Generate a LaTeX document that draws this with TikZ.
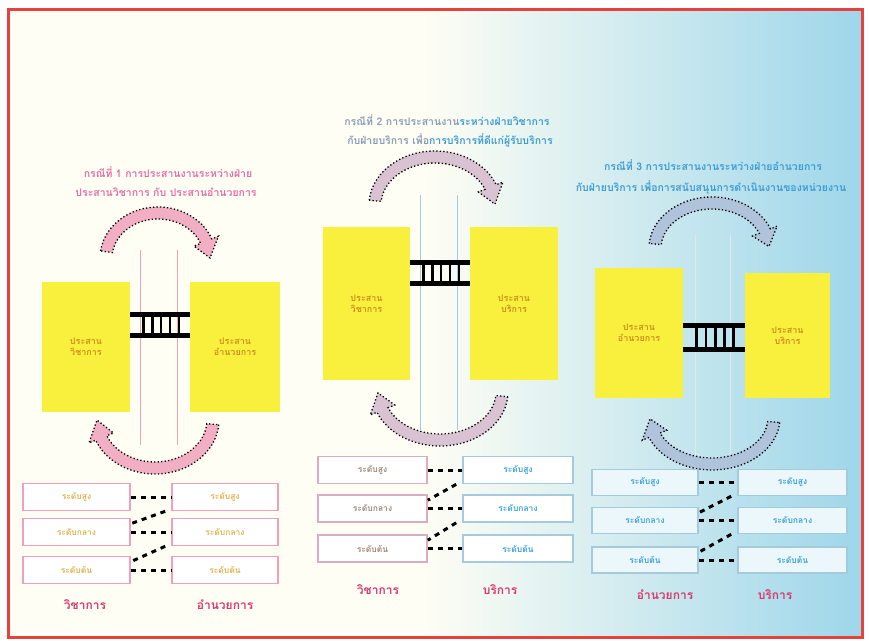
\documentclass[tikz,border=0pt]{standalone}
\usepackage{fontspec}
\setmainfont{Loma}[Script=Thai]
\usetikzlibrary{calc}

\definecolor{frame}{HTML}{E8403A}
\definecolor{skyb}{HTML}{9ED6EA}
\definecolor{cream}{HTML}{FFFEF4}
\definecolor{boxyellow}{HTML}{F8F03C}
\definecolor{boxtext}{HTML}{CF9020}
\definecolor{pinktitle}{HTML}{E46FA6}
\definecolor{bluetitle}{HTML}{3E9CD2}
\definecolor{greyblue}{HTML}{8A9CB4}
\definecolor{pinkline}{HTML}{F2A0B8}
\definecolor{blueline}{HTML}{A4CADC}
\definecolor{labelred}{HTML}{D8386E}
\definecolor{arrowpink}{HTML}{F2AFC4}
\definecolor{arrowmauve}{HTML}{D9C3D3}
\definecolor{arrowblue}{HTML}{AFC3DB}
\definecolor{faintyellow}{HTML}{E0B452}
\definecolor{levelblue}{HTML}{3CA2DA}
\definecolor{levelgrey}{HTML}{A08A78}

\tikzset{
  panelbox/.style={fill=boxyellow, draw=none, inner sep=0pt, align=center,
    font=\bfseries\fontsize{9}{11}\selectfont, text=boxtext},
  levelbox/.style={draw=#1, line width=1.6pt, fill=white, minimum height=27pt,
    inner sep=0pt, font=\bfseries\fontsize{8.5}{9}\selectfont},
  link/.style={draw=black, line width=3pt, dash pattern=on 5pt off 5pt},
  rail/.style={line width=5pt, black},
  rung/.style={line width=2.6pt, black},
  divider/.style={line width=0.8pt},
  titletext/.style={font=\bfseries\fontsize{10.5}{12}\selectfont},
  sidelabel/.style={font=\bfseries\fontsize{12}{13}\selectfont, text=labelred},
  band/.style={fill=#1, draw=black, line width=1.3pt, dash pattern=on 1.3pt off 2.2pt},
}

% curved broad arrow: centre, x radius, y radius, half width, start, end, tip angle, style
\newcommand\bandarrow[8]{%
  \pgfmathsetmacro\rxo{#2+#4}\pgfmathsetmacro\ryo{#3+#4}%
  \pgfmathsetmacro\rxi{#2-#4}\pgfmathsetmacro\ryi{#3-#4}%
  \pgfmathsetmacro\rxh{#2+2.2*#4}\pgfmathsetmacro\ryh{#3+2.2*#4}%
  \pgfmathsetmacro\rxl{#2-2.2*#4}\pgfmathsetmacro\ryl{#3-2.2*#4}%
  \filldraw[#8] ($(#1)+(#5:\rxo\space and \ryo)$)
    arc[start angle=#5, end angle=#6, x radius=\rxo, y radius=\ryo]
    -- ($(#1)+(#6:\rxh\space and \ryh)$)
    -- ($(#1)+(#7:#2 and #3)$)
    -- ($(#1)+(#6:\rxl\space and \ryl)$)
    -- ($(#1)+(#6:\rxi\space and \ryi)$)
    arc[start angle=#6, end angle=#5, x radius=\rxi, y radius=\ryi]
    -- cycle;}

% ladder of rails and rungs joining two boxes: left box, right box, upper y, lower y
\newcommand\ladder[4]{%
  \coordinate (lt) at (0,#3); \coordinate (lb) at (0,#4);
  \coordinate (p1) at (#1.east |- lt); \coordinate (p2) at (#2.west |- lt);
  \coordinate (p3) at (#1.east |- lb); \coordinate (p4) at (#2.west |- lb);
  \foreach \t in {0.22,0.37,0.52,0.67,0.82}
    \draw[rung] ($(p1)!\t!(p2)$) -- ($(p3)!\t!(p4)$);
  \draw[rail] (p1) -- (p2);
  \draw[rail] (p3) -- (p4);}

\begin{document}
\begin{tikzpicture}[x=1pt, y=1pt]
\useasboundingbox (0,0) rectangle (869,643);

% background and frame
\fill[white] (0,0) rectangle (869,643);
\fill[cream] (8,6) rectangle (862,633);
\shade[left color=cream, right color=skyb] (420,6) rectangle (862,633);
\draw[frame, line width=3pt] (8,6) rectangle (862,633);

% thin vertical guide lines
\draw[divider, pinkline] (140,393) -- (140,198);
\draw[divider, pinkline] (177,393) -- (177,198);
\draw[divider, blueline] (420,448) -- (420,213);
\draw[divider, blueline] (457,448) -- (457,213);
\draw[divider, white!60!blueline] (695,408) -- (695,183);
\draw[divider, white!60!blueline] (730,408) -- (730,183);

% ---------- left panel ----------
\node[titletext, text=pinktitle] (Lt1) at (168,471) {กรณีที่ 1 การประสานงานระหว่างฝ่าย};
\node[titletext, text=pinktitle] (Lt2) at (166,451) {ประสานวิชาการ กับ ประสานอำนวยการ};

\node[panelbox, minimum width=88pt, minimum height=130pt] (LA) at (86,296) {ประสาน\\วิชาการ};
\node[panelbox, minimum width=90pt, minimum height=130pt] (LB) at (235,296) {ประสาน\\อำนวยการ};
\ladder{LA}{LB}{328}{307}

\coordinate (Lup) at (158,385);
\bandarrow{Lup}{52}{45}{6}{172}{22}{0}{band=arrowpink}
\coordinate (Ldown) at (155,223);
\bandarrow{Ldown}{58}{48}{6}{-5}{-158}{-180}{band=arrowpink}

\node[levelbox=pinkline, minimum width=107pt, text=faintyellow] (LA1) at (76.5,146) {ระดับสูง};
\node[levelbox=pinkline, minimum width=107pt, text=faintyellow] (LA2) at (76.5,111) {ระดับกลาง};
\node[levelbox=pinkline, minimum width=107pt, text=faintyellow] (LA3) at (76.5,73) {ระดับต้น};
\node[levelbox=pinkline, minimum width=106pt, text=faintyellow] (LB1) at (225,146) {ระดับสูง};
\node[levelbox=pinkline, minimum width=106pt, text=faintyellow] (LB2) at (225,111) {ระดับกลาง};
\node[levelbox=pinkline, minimum width=106pt, text=faintyellow] (LB3) at (225,73) {ระดับต้น};
\draw[link] (LA1) -- (LB1);
\draw[link] ([xshift=-6pt]LB1.south west) -- ([yshift=-6pt]LA2.north east);
\draw[link] (LA2) -- (LB2);
\draw[link] ([xshift=-6pt]LB2.south west) -- ([yshift=-6pt]LA3.north east);
\draw[link] (LA3) -- (LB3);

\node[sidelabel] (LlabA) at (85,38) {วิชาการ};
\node[sidelabel] (LlabB) at (225,38) {อำนวยการ};

% ---------- middle panel ----------
\node[titletext] (Mt1) at (447,523) {\color{greyblue}กรณีที่ 2 การประสานงาน\color{bluetitle}ระหว่างฝ่ายวิชาการ};
\node[titletext] (Mt2) at (450,503) {\color{greyblue}กับฝ่ายบริการ เพื่อ\color{bluetitle}การบริการที่ดีแก่ผู้รับบริการ};

\node[panelbox, minimum width=87pt, minimum height=153pt] (MA) at (366.5,339.5) {ประสาน\\วิชาการ};
\node[panelbox, minimum width=88pt, minimum height=153pt] (MB) at (514,339.5) {ประสาน\\บริการ};
\ladder{MA}{MB}{380}{359}

\coordinate (Mup) at (435,438);
\bandarrow{Mup}{60}{48}{6}{175}{22}{1}{band=arrowmauve}
\coordinate (Mdown) at (440,251);
\bandarrow{Mdown}{62}{48}{6}{-5}{-158}{-179}{band=arrowmauve}

\node[levelbox=pinkline!70!blueline, minimum width=109pt, text=levelgrey] (MA1) at (372.5,173) {ระดับสูง};
\node[levelbox=pinkline!70!blueline, minimum width=109pt, text=levelgrey] (MA2) at (372.5,134.5) {ระดับกลาง};
\node[levelbox=pinkline!70!blueline, minimum width=109pt, text=levelgrey] (MA3) at (372.5,94.5) {ระดับต้น};
\node[levelbox=blueline, minimum width=110pt, text=levelblue] (MB1) at (518,173) {ระดับสูง};
\node[levelbox=blueline, minimum width=110pt, text=levelblue] (MB2) at (518,134.5) {ระดับกลาง};
\node[levelbox=blueline, minimum width=110pt, text=levelblue] (MB3) at (518,94.5) {ระดับต้น};
\draw[link] (MA1) -- (MB1);
\draw[link] ([xshift=-6pt]MB1.south west) -- ([yshift=-6pt]MA2.north east);
\draw[link] (MA2) -- (MB2);
\draw[link] ([xshift=-6pt]MB2.south west) -- ([yshift=-6pt]MA3.north east);
\draw[link] (MA3) -- (MB3);

\node[sidelabel] (MlabA) at (378,53) {วิชาการ};
\node[sidelabel] (MlabB) at (500,53) {บริการ};

% ---------- right panel ----------
\node[titletext, text=bluetitle] (Rt1) at (713,478) {กรณีที่ 3 การประสานงานระหว่างฝ่ายอำนวยการ};
\node[titletext, text=bluetitle] (Rt2) at (711,456) {กับฝ่ายบริการ เพื่อการสนับสนุนการดำเนินงานของหน่วยงาน};

\node[panelbox, minimum width=88pt, minimum height=130pt] (RA) at (639,310) {ประสาน\\อำนวยการ};
\node[panelbox, minimum width=85pt, minimum height=125pt] (RB) at (787.5,307.5) {ประสาน\\บริการ};
\ladder{RA}{RB}{317}{293}

\coordinate (Rup) at (712,395);
\bandarrow{Rup}{57}{45}{6}{175}{22}{2}{band=arrowblue}
\coordinate (Rdown) at (712,225);
\bandarrow{Rdown}{62}{46}{6}{-5}{-158}{-179}{band=arrowblue}

\node[levelbox=blueline, fill=white!80!skyb, minimum width=106pt, minimum height=26pt, text=levelblue] (RA1) at (645,160.5) {ระดับสูง};
\node[levelbox=blueline, fill=white!80!skyb, minimum width=106pt, minimum height=26pt, text=levelblue] (RA2) at (645,122.5) {ระดับกลาง};
\node[levelbox=blueline, fill=white!80!skyb, minimum width=106pt, minimum height=26pt, text=levelblue] (RA3) at (645,83) {ระดับต้น};
\node[levelbox=blueline, fill=white!80!skyb, minimum width=109pt, minimum height=26pt, text=levelblue] (RB1) at (792.5,160.5) {ระดับสูง};
\node[levelbox=blueline, fill=white!80!skyb, minimum width=109pt, minimum height=26pt, text=levelblue] (RB2) at (792.5,122.5) {ระดับกลาง};
\node[levelbox=blueline, fill=white!80!skyb, minimum width=109pt, minimum height=26pt, text=levelblue] (RB3) at (792.5,83) {ระดับต้น};
\draw[link] (RA1) -- (RB1);
\draw[link] ([xshift=-6pt]RB1.south west) -- ([yshift=-6pt]RA2.north east);
\draw[link] (RA2) -- (RB2);
\draw[link] ([xshift=-6pt]RB2.south west) -- ([yshift=-6pt]RA3.north east);
\draw[link] (RA3) -- (RB3);

\node[sidelabel] (RlabA) at (665,48) {อำนวยการ};
\node[sidelabel] (RlabB) at (775,48) {บริการ};
\end{tikzpicture}
\end{document}
